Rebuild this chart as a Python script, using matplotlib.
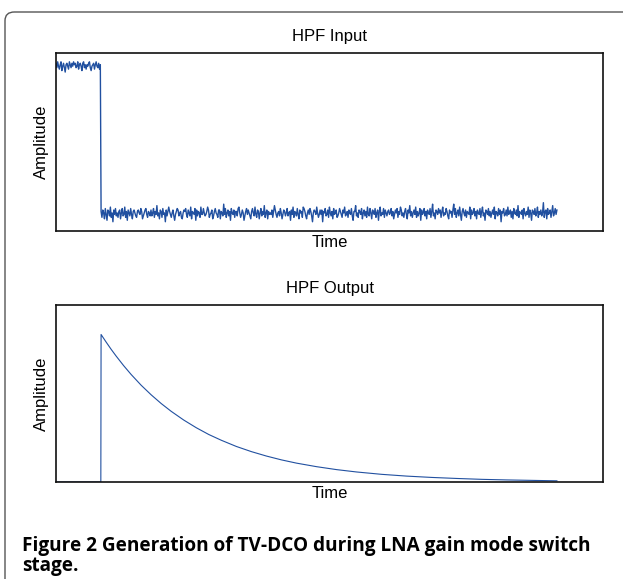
import numpy as np
import matplotlib
matplotlib.use('Agg')
import matplotlib.pyplot as plt
from matplotlib.patches import FancyBboxPatch

plt.rcParams['font.family'] = ['Liberation Sans', 'DejaVu Sans']

line_color = '#2150a0'

# HPF input: high level before the gain switch, low level after (noise in % of step)
high_level = 1.0
low_level = 0.0
switch_time = 90
end_time = 1000
high_noise = [2, -1, 3, 0, -2, 1, 3, -3, 0, 2, -1, -4, 1, 2, 0, -2, 3, 1, -1, 2,
              0, 3, 1, 2, -1, 0, 3, -2, 1, 2, 0, -3, 2, 3, -1, 1,
              -2, 1, 0, 2, 3, -1, -3, 0, 1, 2, -2, 1, 3, 0, -1, 2, -2, 1]
low_noise = [
    1, -3, 2, 0, -4, 3, -1, -5, 2, 1, -2, 4, -3, 0, -6, 2, -1, 3, -2, 0,
    -3, 1, 2, -4, 0, 3, -2, -1, 4, -3, 1, -5, 2, 0, -2, 3, -1, -4, 1, 2,
    0, -2, -3, 1, 2, 0, -1, 3, 1, -4, -2, 0, 2, 3, -1, -3, 1, 0, -2, 2,
    -2, 0, 3, -3, 1, -1, 5, -2, 0, -4, 2, 1, -3, 3, -1, 0, -6, 2, -2, 1,
    4, 1, -1, -3, 0, 2, -2, -5, -1, 1, 3, 2, -2, 0, 1, -3, -4, 0, 2, 1,
    3, -1, -3, 2, 0, -2, 4, -4, 1, 0, -1, 3, -5, 2, -2, 1, 0, -3, 4, -1,
    -1, 3, 0, -2, -1, 1, 4, 2, -3, -1, 0, 2, -4, -2, 1, 3, 0, -1, -3, 2,
    2, -4, 1, 0, -2, 6, -1, 3, -3, 0, 2, -2, 1, -5, 3, 0, -1, 2, -3, 1,
    1, -2, 3, 4, 0, -3, -1, 2, 0, -5, -2, 1, 3, -1, 2, 0, -2, -4, 1, 3,
    0, -2, 4, -1, -3, 2, 1, -4, 0, 3, -2, 1, -1, 5, -3, 0, 2, -4, 1, -1,
    0, -1, 2, -3, 1, 5, 2, -1, -3, 0, 1, -2, 3, 0, -4, -1, 2, 1, -2, 0,
    3, -2, 0, 1, -5, 2, -1, 4, -3, 1, 0, -2, 3, -1, -4, 2, 0, 1, -3, 4,
    3, 1, -2, -4, 0, 2, -1, 3, 1, -2, -6, 0, 2, 1, -1, 4, 0, -3, -1, 2,
    -1, 2, -6, 1, 0, 3, -2, -1, 2, -3, 4, 0, -2, 1, -4, 3, -1, 0, 2, -3,
    -2, 0, 3, 1, -1, -3, 2, 0, 4, -2, -1, 1, -3, 2, 0, -1, 3, -2, -5, 1,
    1, 5, -2, 0, -3, 2, 1, -1, 3, -4, 0, 2, -2, 1, -3, 4, -1, -2, 3, 0,
    -4, 2, 1, -1, 3, -3, 0, 2, -5, 1, 4, -2, 0, -1, 3, -3, 2, 0, -2, 1,
    2, -1, 0, 3, -2, 1, -4, -1, 2, 0, 3, -3, 1, -1, 4, 2, -2, 0, -3, 1,
    3, -1, -4, 2, 0, 5, -2, 1, -3, 0, 2, -1, 4, -3, 1, -2, 0, 3, -5, 2,
    -1, 0, 3, -2, 1, -4, 2, 0, -1, 3, -3, 1, 6, -2, 0, -4, 2, 1, -1, 3,
    0, 2, -3, 1, 4, -2, 0, -1, 3, 1, -2, -4, 2, 0, 1, -3, 2, 6, -1, 3,
    -3, 0, 2, -2, 4, -1, -5, 1, 3, 0, -2, 2, -3, 1, 0, -1, 4, -4, 2, -1,
    0, 3, -2, 1, -4, 2, 0, -1, 3, -3, 1, 4, -2, 0, -5, 2, 1, -1, 3, -2,
    1, -3, 0, 2, -1, 4, -4, 1, 0, -2, 3, -1, 2, -6, 1, 0, 3, -2, -1, 2,
    -2, 4, -1, 0, 2, -3, 1, -4, 3, 0, -1, 2, -2, 5, -3, 1, 0, -1, 2, -4,
    3, 0, -2, 1, -1, 4, -3, 2, 0, -5, 2, 1, -1, 3, -2, 0, 4, -3, 1, -1,
    2, -2, 0, 7, -3, 1, 2, -4, 3, -1, 0, 2, -3, 1, 5, -2, 0, 3, -1, 2,
]

# HPF output: spike at the switch then decay
out_time = [0, 89.5, 90, 100, 110, 120, 135, 150, 170, 190, 210, 230, 255, 280,
            305, 330, 360, 390, 420, 450, 480, 520, 560, 600, 650, 700, 750,
            800, 850, 900, 950, 1000]
out_amp = [0, 0, 1.0, 0.949, 0.900, 0.854, 0.789, 0.729, 0.656, 0.591, 0.532,
           0.479, 0.420, 0.368, 0.322, 0.283, 0.241, 0.206, 0.176, 0.150,
           0.128, 0.104, 0.084, 0.068, 0.052, 0.040, 0.031, 0.024, 0.018,
           0.014, 0.011, 0.008]

t_high = np.linspace(0, switch_time - 1.5, len(high_noise))
t_low = np.linspace(switch_time, end_time, len(low_noise))
in_time = np.concatenate([t_high, t_low])
in_amp = np.concatenate([high_level + np.array(high_noise) / 100.0,
                         low_level + np.array(low_noise) / 100.0])

fig = plt.figure(figsize=(6.23, 5.79), dpi=100)

# rounded frame around the figure panel
frame = FancyBboxPatch((5 / 623, -0.1), 1.1, 1.1 - 12 / 579,
                       boxstyle='round,pad=0,rounding_size=0.015',
                       transform=fig.transFigure, facecolor='none',
                       edgecolor='#555555', linewidth=1.0, clip_on=False)
fig.patches.append(frame)

ax1 = fig.add_axes([56 / 623, 1 - 231 / 579, 547 / 623, 178 / 579])
ax2 = fig.add_axes([56 / 623, 1 - 482 / 579, 547 / 623, 177 / 579])

ax1.plot(in_time, in_amp, color=line_color, linewidth=1.0)
ax1.set_xlim(0, 1092)
ax1.set_ylim(-0.123, 1.09)
ax1.set_title('HPF Input', fontsize=12, pad=8.5)
ax1.set_xlabel('Time', fontsize=12, labelpad=3)
ax1.set_ylabel('Amplitude', fontsize=12, labelpad=5)

ax2.plot(out_time, out_amp, color=line_color, linewidth=0.8)
ax2.set_xlim(0, 1092)
ax2.set_ylim(0, 1.2)
ax2.set_title('HPF Output', fontsize=12, pad=8.5)
ax2.set_xlabel('Time', fontsize=12, labelpad=3)
ax2.set_ylabel('Amplitude', fontsize=12, labelpad=5)

for ax in (ax1, ax2):
    ax.set_xticks([])
    ax.set_yticks([])
    for s in ax.spines.values():
        s.set_linewidth(1.2)
        s.set_color('#111111')

cap_font = ['Open Sans', 'DejaVu Sans']
fig.text(22 / 623, 1 - 546 / 579,
         'Figure 2 Generation of TV-DCO during LNA gain mode switch',
         fontsize=13.7, fontweight='bold', family=cap_font, va='center', ha='left')
fig.text(22 / 623, 1 - 566 / 579, 'stage.', fontsize=13.7, fontweight='bold',
         family=cap_font, va='center', ha='left')

fig.savefig('out.png', dpi=100)
